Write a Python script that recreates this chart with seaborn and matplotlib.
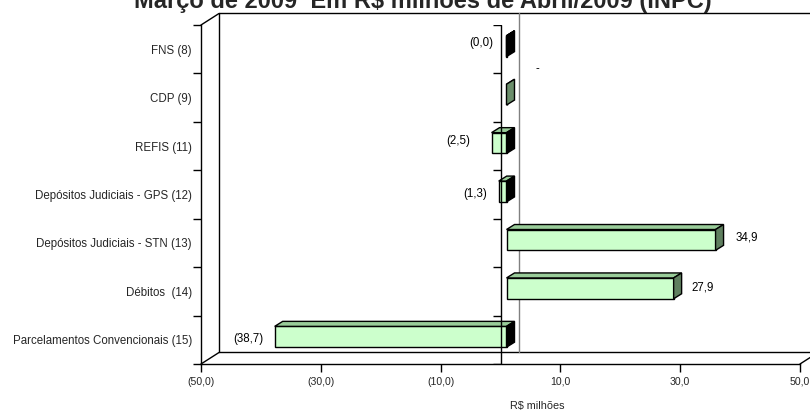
import numpy as np
import pandas as pd
import matplotlib
matplotlib.use("Agg")
import matplotlib.pyplot as plt
import seaborn as sns
from matplotlib.patches import Polygon

# ---- data -----------------------------------------------------------------
categories = [
    "FNS (8)",
    "CDP (9)",
    "REFIS (11)",
    "Depósitos Judiciais - GPS (12)",
    "Depósitos Judiciais - STN (13)",
    "Débitos  (14)",
    "Parcelamentos Convencionais (15)",
]
values = [-0.02, 0.0, -2.5, -1.3, 34.9, 27.9, -38.7]
x_ticks = [-50, -30, -10, 10, 30, 50]

title = "Março de 2009  Em R$ milhões de Abril/2009 (INPC)"
x_label = "R$ milhões"


def fmt(v):
    """Accounting style: negatives in parentheses, zero as a dash."""
    if v == 0:
        return "-"
    s = f"{abs(v):.1f}".replace(".", ",")
    return f"({s})" if v < 0 else s


# ---- layout (pixels) ------------------------------------------------------
W, H, DPI = 810, 415, 100
AX_L, AX_R, AX_T, AX_B = 201, 800, 25, 364
BOX_DX, BOX_DY = 18, 11.5          # depth of the 3-D box
FRONT_DX, FRONT_DY = 6, 3          # bar front plane
BACK_DX, BACK_DY = 14, 8           # bar back plane
BAR_WIDTH = 0.43

# label nudges (pixels: right, up) relative to bar end / category centre
label_nudge = [(-13, 6), (31, 29), (-21, 5), (-12, 1), (20, 5), (18, 4), (-11, 1)]

FACE = "#CCFFCC"
TOP = "#99CC99"
SIDE_POS = "#5F7F5F"
SIDE_CDP = "#6B8E6B"

sns.set_theme(style="white")
plt.rcParams["font.family"] = ["Liberation Sans", "DejaVu Sans"]

fig = plt.figure(figsize=(W / DPI, H / DPI), dpi=DPI)
fig.patch.set_facecolor("white")
ax = fig.add_axes([AX_L / W, (H - AX_B) / H, (AX_R - AX_L) / W, (AX_B - AX_T) / H])
ax.set_facecolor("none")

df = pd.DataFrame({"category": categories, "value": values})
sns.barplot(
    data=df, x="value", y="category", orient="h", color=FACE, saturation=1,
    edgecolor="black", linewidth=1.0, width=BAR_WIDTH, errorbar=None,
    ax=ax, zorder=3,
)

n = len(categories)
ax.set_xlim(-50, 50)
ax.set_ylim(n - 0.5, -0.5)

sx = (AX_R - AX_L) / 100.0          # pixels per R$ milhão
sy = (AX_B - AX_T) / n              # pixels per category


def off(dx_px, dy_up_px):
    return dx_px / sx, -dy_up_px / sy


fdx, fdy = off(FRONT_DX, FRONT_DY)
bdx, bdy = off(BACK_DX, BACK_DY)
Bdx, Bdy = off(BOX_DX, BOX_DY)

# ---- back wall and floor edges --------------------------------------------
line_kw = dict(color="black", lw=1.0, clip_on=False, zorder=1)
y_top, y_bot = -0.5, n - 0.5
ax.plot([-50 + Bdx, -50 + Bdx], [y_top + Bdy, y_bot + Bdy], **line_kw)
ax.plot([-50 + Bdx, 60], [y_top + Bdy, y_top + Bdy], **line_kw)
ax.plot([-50 + Bdx, 60], [y_bot + Bdy, y_bot + Bdy], **line_kw)
ax.plot([-50, -50 + Bdx], [y_top, y_top + Bdy], **line_kw)
ax.plot([-50, -50 + Bdx], [y_bot, y_bot + Bdy], **line_kw)
ax.plot([50, 50 + Bdx], [y_bot, y_bot + Bdy], **line_kw)
ax.plot([Bdx, Bdx], [y_top + Bdy, y_bot + Bdy], color="#808080", lw=1.0,
        clip_on=False, zorder=1)

# ---- 3-D bars: shift front faces, add top and end faces -------------------
bars = list(ax.patches)
for p, v in zip(bars, values):
    x0, x1 = min(0.0, v), max(0.0, v)
    yt = p.get_y()
    yb = yt + p.get_height()
    p.set_x(p.get_x() + fdx)
    p.set_y(p.get_y() + fdy)
    top = Polygon([(x0 + fdx, yt + fdy), (x1 + fdx, yt + fdy),
                   (x1 + bdx, yt + bdy), (x0 + bdx, yt + bdy)],
                  closed=True, facecolor=TOP, edgecolor="black", lw=1.0, zorder=3)
    if v < 0:
        side_c = "black"
    elif v == 0:
        side_c = SIDE_CDP
    else:
        side_c = SIDE_POS
    side = Polygon([(x1 + fdx, yt + fdy), (x1 + bdx, yt + bdy),
                    (x1 + bdx, yb + bdy), (x1 + fdx, yb + fdy)],
                   closed=True, facecolor=side_c, edgecolor="black", lw=1.0, zorder=3)
    ax.add_patch(top)
    ax.add_patch(side)

# ---- front zero axis with its own ticks -----------------------------------
bounds = np.arange(n + 1) - 0.5
ax.axvline(0, color="black", lw=1.0, zorder=5)
ax.hlines(bounds, -8 / sx, 0, color="black", lw=1.0, zorder=5)

# ---- value labels ---------------------------------------------------------
for i, (v, (nx, ny)) in enumerate(zip(values, label_nudge)):
    end = v + fdx
    if v > 0:
        ha = "left"
    elif v < 0:
        ha = "right"
    else:
        ha = "center"
    ax.annotate(fmt(v), xy=(end, i), xytext=(nx * 72 / DPI, ny * 72 / DPI),
                textcoords="offset points", ha=ha, va="center",
                fontsize=8.3, color="black", zorder=6, annotation_clip=False)

# ---- axes, ticks, labels --------------------------------------------------
for s in ("top", "right"):
    ax.spines[s].set_visible(False)
for s in ("left", "bottom"):
    ax.spines[s].set_color("black")
    ax.spines[s].set_linewidth(1.0)

tick_len = 8 * 72 / DPI
ax.set_yticks(bounds)
ax.set_yticklabels([])
ax.set_yticks(np.arange(n), minor=True)
ax.set_yticklabels(categories, minor=True, fontsize=8.3)
ax.tick_params(axis="y", which="major", direction="out", length=tick_len,
               width=1.0, color="black", left=True)
ax.tick_params(axis="y", which="minor", length=0, pad=6.5, left=True)

ax.set_xticks(x_ticks)
ax.set_xticklabels([fmt(t) for t in x_ticks], fontsize=7.6)
ax.tick_params(axis="x", which="major", direction="out", length=tick_len,
               width=1.0, color="black", bottom=True, pad=3.5)
ax.set_ylabel("")
ax.set_xlabel("")

fig.text(537 / W, 1 - 406 / H, x_label, ha="center", va="center", fontsize=7.8)
fig.text(423 / W, 1 - 8 / H, title, ha="center", va="baseline",
         fontsize=17, fontweight="bold")

fig.savefig("out.png", dpi=DPI)
